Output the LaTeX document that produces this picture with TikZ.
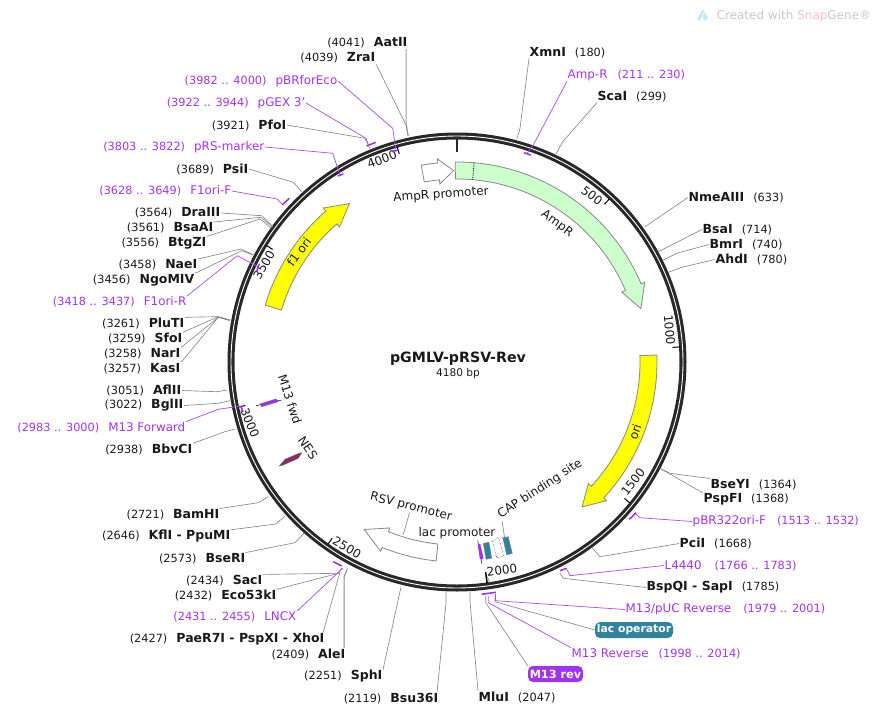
\documentclass[tikz,border=0pt]{standalone}
\usepackage{xcolor}
\usepackage{fontspec}
\setmainfont{DejaVu Sans}
\usetikzlibrary{calc}
\definecolor{ringdark}{RGB}{40,40,40}
\definecolor{leadgray}{RGB}{135,135,135}
\definecolor{primerviolet}{RGB}{160,50,245}
\definecolor{opteal}{RGB}{50,130,155}
\definecolor{resgreen}{RGB}{204,255,204}
\definecolor{oriyellow}{RGB}{255,255,0}
\definecolor{nesmaroon}{RGB}{140,45,100}
\newcommand{\gap}{\hspace{9pt}}
\newcommand{\nm}[1]{{\fontsize{12.5}{13}\selectfont\bfseries #1}}
\newcommand{\pn}[1]{{\fontsize{11.9}{13}\selectfont #1}}
% fill, tail, head base and tip, as degrees clockwise from the top
\newcommand{\bandarrow}[4]{\draw[band, fill=#1] ({90-#2}:200) arc[start angle=90-#2, end angle=90-#3, radius=200]
  -- ({90-#3}:204) -- ({90-#4}:191.5) -- ({90-#3}:179) -- ({90-#3}:183)
  arc[start angle=90-#3, end angle=90-#2, radius=183] -- cycle;}

\begin{document}
\begin{tikzpicture}[
  x=1pt, y=-1pt,
  declare function={bpa(\p)=90-\p/4180*360;},
  site/.style={font=\fontsize{11.3}{13}\selectfont, inner sep=.5pt, text=black!90},
  primer/.style={site, text=primerviolet},
  lead/.style={draw=leadgray, line width=.65pt},
  plead/.style={draw=primerviolet!85, line width=.75pt},
  pmark/.style={draw=primerviolet, line width=1.6pt},
  band/.style={draw=leadgray, line width=.8pt},
  lbl/.style={font=\fontsize{12}{13}\selectfont, inner sep=0pt, text=black!90},
  pill/.style={rounded corners=5pt, text=white, inner sep=0pt, minimum height=16pt,
               font=\fontsize{11.3}{13}\selectfont\bfseries},
  ticked/.style={draw=black, line width=1pt}]
\useasboundingbox (0,0) rectangle (876,715);

% ring and the arrows round it
\begin{scope}[shift={(457,362)}, y=1pt]
\draw[ringdark, line width=7pt] (0,0) circle (226);
\draw[white, line width=.9pt] (0,0) circle (226);
\draw[ringdark, line width=2.6pt] ({bpa(0)}:210) -- ({bpa(0)}:224);
\draw[ticked] ({bpa(500)}:216) -- ({bpa(500)}:223);
\draw[ticked] ({bpa(1000)}:216) -- ({bpa(1000)}:223);
\draw[ticked] ({bpa(1500)}:216) -- ({bpa(1500)}:223);
\draw[ticked, line width=1.5pt] ({bpa(2000)}:212) -- ({bpa(2000)}:223);
\draw[ticked] ({bpa(2500)}:216) -- ({bpa(2500)}:223);
\draw[ticked] ({bpa(3000)}:216) -- ({bpa(3000)}:223);
\draw[ticked] ({bpa(3500)}:216) -- ({bpa(3500)}:223);
\draw[ticked] ({bpa(4000)}:216) -- ({bpa(4000)}:223);
\bandarrow{resgreen}{-.5}{67}{73.8}
\draw[densely dotted, black, line width=.8pt] ({90-4.9}:183) -- ({90-4.9}:200);
\bandarrow{white}{-10.3}{-5.5}{-1}
\bandarrow{oriyellow}{88}{132.8}{139.2}
\bandarrow{white}{186}{202}{209}
\bandarrow{oriyellow}{-73.5}{-41}{-34.2}
\end{scope}

% tick numbers
\node[lbl, rotate=-37] (n500) at (592,195.5) {500};
\node[lbl, rotate=-85] (n1000) at (669.5,330) {1000};
\node[lbl, rotate=52] (n1500) at (633,482) {1500};
\node[lbl, rotate=8] (n2000) at (502,570) {2000};
\node[lbl, rotate=-30] (n2500) at (347,547.5) {2500};
\node[lbl, rotate=-67] (n3000) at (250,423) {3000};
\node[lbl, rotate=60] (n3500) at (264,265) {3500};
\node[lbl, rotate=20] (n4000) at (382,159.5) {4000};
\coordinate (n2000r) at (490,583);
\draw[lead] (n2000.south west) -- (n2000r);

% name in the middle
\node[lbl, font=\fontsize{14.2}{15}\selectfont\bfseries] (plasmid) at (458,359) {pGMLV-pRSV-Rev};
\node[lbl, font=\fontsize{10.6}{13}\selectfont] (size) at (458,374) {4180 bp};

% names of the arrows
\node[lbl, rotate=-36] (ampr) at (557,224) {AmpR};
\node[lbl, rotate=4] (amprp) at (441,195) {AmpR promoter};
\node[lbl, rotate=53] (f1ori) at (299,252) {f1 ori};
\node[lbl, rotate=70] (ori) at (635,432) {ori};
\node[lbl, rotate=33] (cap) at (540,489) {CAP binding site};
\node[lbl] (lacp) at (457,533) {lac promoter};
\node[lbl, rotate=-14] (rsv) at (411,507) {RSV promoter};
\node[lbl, rotate=-72] (m13fwd) at (290,399) {M13 fwd};
\node[lbl, rotate=-55] (nes) at (308,448) {NES};
\coordinate (rsvr) at (403,535);
\coordinate (capr) at (504.5,537);
\draw[lead] (rsv.south) -- (rsvr);
\draw[lead] (cap.south west) -- (capr);

% small pieces inside the ring
\draw[draw=leadgray, fill=opteal] (502.7,537.7) -- (508.3,536.7) -- (512.3,553.3) -- (506.7,555) -- cycle;
\draw[draw=leadgray, fill=opteal] (483.3,543.3) -- (489,542.3) -- (491.7,558.3) -- (486,559.3) -- cycle;
\draw[densely dotted, black, fill=white] (492.5,541) -- (497.5,537.5) -- (499.5,540) -- (503.5,556) -- (498,558) -- (496,556) -- cycle;
\draw[black, line width=.5pt] (477.7,540.7) -- (481.7,563.3);
\draw[draw=primerviolet, fill=primerviolet] (478,544) -- (480,544) -- (483.3,558.3) -- (481.7,559.3) -- (480,558.3) -- cycle;
\draw[black, line width=.5pt] (256,405.7) -- (281.7,400);
\draw[draw=black!60, fill=primerviolet] (260,404) -- (276,399) -- (278.3,401.7) -- (261.7,406.7) -- cycle;
\draw[draw=black!60, fill=nesmaroon] (279.3,466) -- (285,459.3) -- (299,453.3) -- (301.7,452.7) -- (298.3,458.3) -- (283.3,465) -- cycle;

% left side, top to bottom
\node[site, anchor=east] (AatII) at (408,43) {(4041)\gap\nm{AatII}};
\coordinate (AatIIr) at (408.3,136); \draw[lead, line width=1pt, draw=leadgray!80] ([xshift=-2pt]AatII.south east) -- (406,123) -- (AatIIr);
\node[site, anchor=east] (ZraI) at (376,58) {(4039)\gap\nm{ZraI}};
\coordinate (ZraIr) at (408,136); \draw[lead] (ZraI.south east) -- (406,125) -- (ZraIr);
\node[primer, anchor=east] (pBRforEco) at (338,81) {(3982 .. 4000)\gap\pn{pBRforEco}};
\coordinate (pBRforEcor) at (396,150.8); \draw[plead] (pBRforEco.east) -- (392.7,128.3) -- (pBRforEcor);
\draw[pmark] (391.7,151.7) -- (398.3,150);
\node[primer, anchor=east] (pGEX) at (306,103) {(3922 .. 3944)\gap\pn{pGEX 3'}};
\coordinate (pGEXr) at (368.5,145); \draw[plead] (pGEX.east) -- (366,138.3) -- (pGEXr);
\draw[pmark] (366.7,146) -- (375.7,142.3);
\node[site, anchor=east] (PfoI) at (287,125) {(3921)\gap\nm{PfoI}};
\coordinate (PfoIr) at (370,149); \draw[lead] (PfoI.east) -- (365,138.3) -- (PfoIr);
\node[primer, anchor=east] (pRS) at (265,147) {(3803 .. 3822)\gap\pn{pRS-marker}};
\coordinate (pRSr) at (340,175); \draw[plead] (pRS.east) -- (332.7,153.3) -- (pRSr);
\draw[pmark] (337.7,176) -- (343.3,174);
\node[site, anchor=east] (PsiI) at (249,169) {(3689)\gap\nm{PsiI}};
\coordinate (PsiIr) at (301.7,191.7); \draw[lead] (PsiI.east) -- (293.3,182.3) -- (PsiIr);
\node[primer, anchor=east] (F1oriF) at (232,191) {(3628 .. 3649)\gap\pn{F1ori-F}};
\coordinate (F1oriFr) at (282.5,204.5); \draw[plead] (F1oriF.east) -- (277.3,199) -- (F1oriFr);
\draw[pmark] (282.3,205) -- (289.3,198.3);
\node[site, anchor=east] (DraIII) at (221,213) {(3564)\gap\nm{DraIII}};
\coordinate (DraIIIr) at (273,226.7); \draw[lead] (DraIII.east) -- (261.7,215.7) -- (DraIIIr);
\node[site, anchor=east] (BsaAI) at (214,228) {(3561)\gap\nm{BsaAI}};
\coordinate (BsaAIr) at (273,227); \draw[lead] (BsaAI.north east) -- (260.7,217.3) -- (BsaAIr);
\node[site, anchor=east] (BtgZI) at (207,243) {(3556)\gap\nm{BtgZI}};
\coordinate (BtgZIr) at (271.7,228.3); \draw[lead] (BtgZI.north east) -- (260,219) -- (BtgZIr);
\node[site, anchor=east] (NaeI) at (198,265) {(3458)\gap\nm{NaeI}};
\coordinate (NaeIr) at (253,254.5); \draw[lead] (NaeI.north east) -- (240.7,249) -- (NaeIr);
\node[site, anchor=east] (NgoMIV) at (195,280) {(3456)\gap\nm{NgoMIV}};
\coordinate (NgoMIVr) at (253,255); \draw[lead] (NgoMIV.north east) -- (241.7,250.7) -- (NgoMIVr);
\node[primer, anchor=east] (F1oriR) at (187,302) {(3418 .. 3437)\gap\pn{F1ori-R}};
\coordinate (F1oriRr) at (257,266); \draw[plead] (F1oriR.north east) -- (237.3,255.7) -- (F1oriRr);
\draw[pmark] (256.7,271.7) -- (258.7,265);
\node[site, anchor=east] (PluTI) at (185,323.5) {(3261)\gap\nm{PluTI}};
\coordinate (PluTIr) at (230,320); \draw[lead] (PluTI.north east) -- (217.3,316.7) -- (PluTIr);
\node[site, anchor=east] (SfoI) at (183,338.5) {(3259)\gap\nm{SfoI}};
\coordinate (SfoIr) at (230,320); \draw[lead] (SfoI.north east) -- (218.3,316.7) -- (SfoIr);
\node[site, anchor=east] (NarI) at (181,353.5) {(3258)\gap\nm{NarI}};
\coordinate (NarIr) at (230,320.5); \draw[lead] (NarI.north east) -- (218.3,317.3) -- (NarIr);
\node[site, anchor=east] (KasI) at (181,368.5) {(3257)\gap\nm{KasI}};
\coordinate (KasIr) at (230,320.5); \draw[lead] (KasI.north east) -- (218.3,317.3) -- (KasIr);
\node[site, anchor=east] (AflII) at (182,390.5) {(3051)\gap\nm{AflII}};
\coordinate (AflIIr) at (227.3,390); \draw[lead] (AflII.east) -- (216.7,391.7) -- (AflIIr);
\node[site, anchor=east] (BglII) at (184,405.5) {(3022)\gap\nm{BglII}};
\coordinate (BglIIr) at (230,400.7); \draw[lead] (BglII.east) -- (218.3,403.3) -- (BglIIr);
\node[primer, anchor=east] (M13F) at (186,427.5) {(2983 .. 3000)\gap\pn{M13 Forward}};
\coordinate (M13Fr) at (240.7,406); \draw[plead] (M13F.north east) -- (218.3,409.3) -- (M13Fr);
\draw[pmark] (240.7,406) -- (243,412);
\node[site, anchor=east] (BbvCI) at (193,449.5) {(2938)\gap\nm{BbvCI}};
\coordinate (BbvCIr) at (235,429); \draw[lead] (BbvCI.north east) -- (225,431.7) -- (BbvCIr);
\node[site, anchor=east] (BamHI) at (220,514.5) {(2721)\gap\nm{BamHI}};
\coordinate (BamHIr) at (268.3,496.7); \draw[lead] (BamHI.north east) -- (258.3,502.7) -- (BamHIr);
\node[site, anchor=east] (KflI) at (231,536.5) {(2646)\gap\nm{KflI - PpuMI}};
\coordinate (KflIr) at (285,516); \draw[lead] (KflI.north east) -- (276,524) -- (KflIr);
\node[site, anchor=east] (BseRI) at (246,558.5) {(2573)\gap\nm{BseRI}};
\coordinate (BseRIr) at (304,533.3); \draw[lead] (BseRI.north east) -- (295,542.7) -- (BseRIr);
\node[site, anchor=east] (SacI) at (263,580.5) {(2434)\gap\nm{SacI}};
\coordinate (SacIr) at (342,568); \draw[lead] (SacI.north east) -- (338.3,573.3) -- (SacIr);
\node[site, anchor=east] (Eco53kI) at (277,595.5) {(2432)\gap\nm{Eco53kI}};
\coordinate (Eco53kIr) at (342,568); \draw[lead] (Eco53kI.north east) -- (338.3,573.3) -- (Eco53kIr);
\node[primer, anchor=east] (LNCX) at (297,617) {(2431 .. 2455)\gap\pn{LNCX}};
\coordinate (LNCXr) at (342.7,568.3); \draw[plead] (LNCX.north east) -- (LNCXr);
\draw[pmark] (333.3,561.7) -- (341.7,566);
\node[site, anchor=east] (XhoI) at (325,639.5) {(2427)\gap\nm{PaeR7I - PspXI - XhoI}};
\coordinate (XhoIr) at (340,572); \draw[lead] ([xshift=-2pt]XhoI.north east) -- (XhoIr);
\node[site, anchor=east] (AleI) at (346,654.5) {(2409)\gap\nm{AleI}};
\coordinate (AleIr) at (347.5,568.5); \draw[lead, line width=1pt] ([xshift=-2pt]AleI.north east) -- (344,577) -- (AleIr);
\node[site, anchor=east] (SphI) at (383,676.5) {(2251)\gap\nm{SphI}};
\coordinate (SphIr) at (401,587); \draw[lead] (SphI.north east) -- (SphIr);
\node[site, anchor=east] (Bsu36I) at (439,698.5) {(2119)\gap\nm{Bsu36I}};
\coordinate (Bsu36Ir) at (446,591.7); \draw[lead] ([xshift=-2pt]Bsu36I.north east) -- (446,603) -- (Bsu36Ir);

% bottom and right side
\node[site, anchor=west] (MluI) at (478,697) {\nm{MluI}\gap(2047)};
\coordinate (MluIr) at (470,591.7); \draw[lead] (MluI.north west) -- (470,601.7) -- (MluIr);
\node[pill, fill=primerviolet, minimum width=55pt] (M13rev) at (555.5,674) {M13 rev};
\coordinate (M13revr) at (485.7,596); \draw[lead] (M13rev.north west) -- (485.7,602.7) -- (M13revr);
\node[primer, anchor=west] (M13R) at (571,653.5) {\pn{M13 Reverse}\hspace{10pt}(1998 .. 2014)};
\coordinate (M13Rr) at (488.3,596); \draw[plead] (M13R.north west) -- (488.3,602.7) -- (M13Rr);
\node[pill, fill=opteal, minimum width=78pt, font=\fontsize{10.8}{13}\selectfont\bfseries] (lacop) at (634,630) {lac operator};
\coordinate (lacopr) at (495,596); \draw[lead] (lacop.west) -- (495,601.7) -- (lacopr);
\node[primer, anchor=west] (M13pUC) at (625,609.5) {\pn{M13/pUC Reverse}\hspace{12pt}(1979 .. 2001)};
\coordinate (M13pUCr) at (495.5,593.5); \draw[plead] (M13pUC.west) -- (495.5,600.7) -- (M13pUCr);
\draw[pmark] (481.7,594.3) -- (496,592.3);
\node[site, anchor=west] (SapI) at (646,587.5) {\nm{BspQI - SapI}\gap(1785)};
\coordinate (SapIr) at (560,573.3); \draw[lead] (SapI.west) -- (563.3,578.3) -- (SapIr);
\node[primer, anchor=west] (L4440) at (664,565.5) {\pn{L4440}\hspace{13pt}(1766 .. 1783)};
\coordinate (L4440r) at (566.7,569); \draw[plead] (L4440.west) -- (570,575.7) -- (L4440r);
\draw[pmark] (560,570.7) -- (566.7,568.3);
\node[site, anchor=west] (PciI) at (679,543.5) {\nm{PciI}\gap(1668)};
\coordinate (PciIr) at (591.7,547.3); \draw[lead] (PciI.west) -- (600,556.7) -- (PciIr);
\node[primer, anchor=west] (pBR322) at (692,521.5) {\pn{pBR322ori-F}\hspace{11pt}(1513 .. 1532)};
\coordinate (pBR322r) at (635,513.3); \draw[plead] (pBR322.west) -- (640,517.7) -- (pBR322r);
\draw[pmark] (629.3,519.3) -- (636,512.7);
\node[site, anchor=west] (PspFI) at (703,499.5) {\nm{PspFI}\gap(1368)};
\coordinate (PspFIr) at (660,468.3); \draw[lead] (PspFI.north west) -- (PspFIr);
\node[site, anchor=west] (BseYI) at (710,484.5) {\nm{BseYI}\gap(1364)};
\coordinate (BseYIr) at (660,468.3); \draw[lead] (BseYI.north west) -- (670,473.3) -- (BseYIr);
\node[site, anchor=west] (AhdI) at (715,259.5) {\nm{AhdI}\gap(780)};
\coordinate (AhdIr) at (668.3,272.3); \draw[lead] (AhdI.west) -- (681.7,267.3) -- (AhdIr);
\node[site, anchor=west] (BmrI) at (709,244.5) {\nm{BmrI}\gap(740)};
\coordinate (BmrIr) at (663.3,260); \draw[lead] (BmrI.west) -- (676.7,253.3) -- (BmrIr);
\node[site, anchor=west] (BsaI) at (702,229.5) {\nm{BsaI}\gap(714)};
\coordinate (BsaIr) at (658.3,251.7); \draw[lead] (BsaI.west) -- (BsaIr);
\node[site, anchor=west] (NmeAIII) at (688,197.5) {\nm{NmeAIII}\gap(633)};
\coordinate (NmeAIIIr) at (645,226.7); \draw[lead] (NmeAIII.west) -- (NmeAIIIr);
\node[site, anchor=west] (ScaI) at (597,96.5) {\nm{ScaI}\gap(299)};
\coordinate (ScaIr) at (556,154); \draw[lead] (ScaI.south west) -- (562.7,141.7) -- (ScaIr);
\node[primer, anchor=west] (AmpRp) at (567,75) {\pn{Amp-R}\hspace{10pt}(211 .. 230)};
\coordinate (AmpRpr) at (527,153.5); \draw[plead] (AmpRp.south west) -- (533.3,145) -- (AmpRpr);
\draw[pmark] (524,152.7) -- (530.7,155);
\node[site, anchor=west] (XmnI) at (529,52.5) {\nm{XmnI}\gap(180)};
\coordinate (XmnIr) at (516.7,139.3); \draw[lead] (XmnI.south west) -- (520,128.3) -- (XmnIr);

% corner mark
\fill[cyan!25] (697,20) -- (702,10) -- (704.5,10) -- (702,16) -- (700,20) -- cycle;
\fill[cyan!25] (702.5,17) -- (704.5,12.5) -- (708,17) -- (705,21) -- cycle;
\node[site, anchor=west, text=black!22, font=\fontsize{12}{13}\selectfont] (credit) at (716,16) {Created with \textcolor{red!25}{Snap}Gene®};
\end{tikzpicture}
\end{document}
